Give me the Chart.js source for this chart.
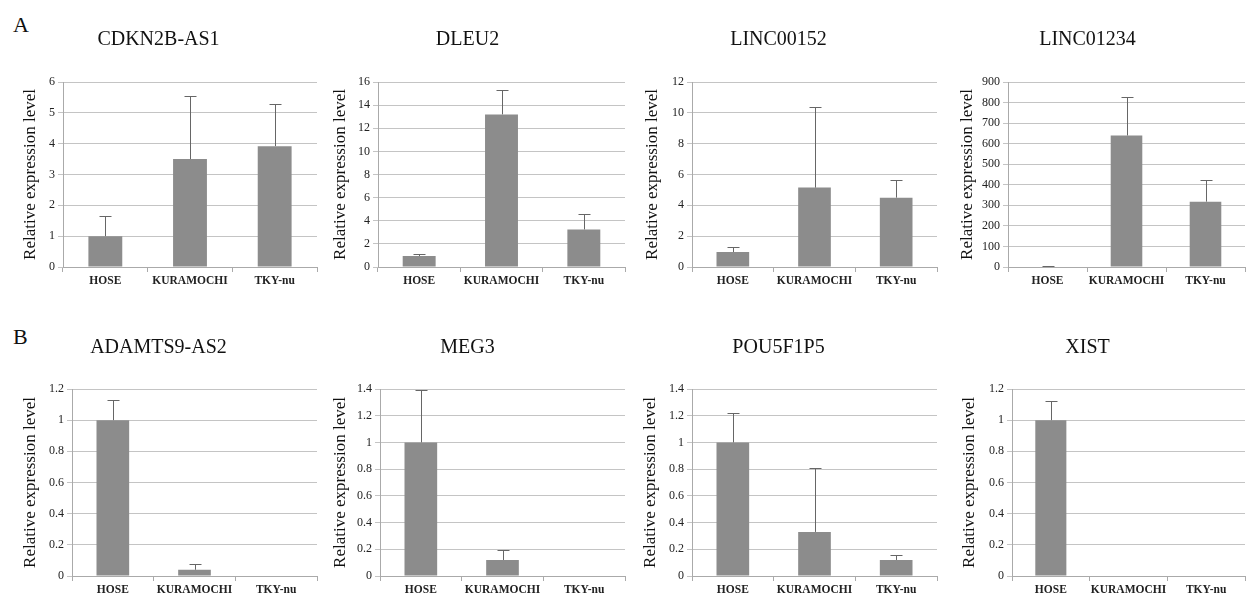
<!DOCTYPE html>
<html>
<head>
<meta charset="utf-8">
<script src="https://cdn.jsdelivr.net/npm/chart.js@4/dist/chart.umd.min.js"></script>
<style>
  body { margin: 0; background: #fff; }
  #wrap { position: relative; width: 1247px; height: 594px; background: #fff; }
  .panel { position: absolute; }
  .tag { position: absolute; font-family: "Liberation Serif", serif; font-size: 22px; color: #111; }
</style>
</head>
<body>
<div id="wrap">
  <div class="tag" style="left:13px; top:12px;">A</div>
  <div class="tag" style="left:13px; top:324px;">B</div>
</div>
<script>
// cell lines on the x axis
const categories = ['HOSE', 'KURAMOCHI', 'TKY-nu'];

// gene names, row A then row B
const genes = ['CDKN2B-AS1', 'DLEU2', 'LINC00152', 'LINC01234',
               'ADAMTS9-AS2', 'MEG3', 'POU5F1P5', 'XIST'];

// mean relative expression and upper error (SD) per gene
const cdkn2bMean = [1, 3.5, 3.92];
const cdkn2bErr = [0.65, 2.05, 1.38];
const dleu2Mean = [0.95, 13.2, 3.25];
const dleu2Err = [0.2, 2.1, 1.35];
const linc00152Mean = [0.97, 5.15, 4.5];
const linc00152Err = [0.3, 5.25, 1.15];
const linc01234Mean = [3, 640, 318];
const linc01234Err = [2, 185, 104];
const adamts9Mean = [1, 0.04, 0];
const adamts9Err = [0.13, 0.035, 0];
const meg3Mean = [1, 0.12, 0];
const meg3Err = [0.39, 0.075, 0];
const pou5f1p5Mean = [1, 0.33, 0.12];
const pou5f1p5Err = [0.22, 0.48, 0.035];
const xistMean = [1, 0, 0];
const xistErr = [0.125, 0, 0];

// y axis tick range per gene
const yMax = [6, 16, 12, 900, 1.2, 1.4, 1.4, 1.2];
const yStep = [1, 2, 2, 100, 0.2, 0.2, 0.2, 0.2];

const means = [cdkn2bMean, dleu2Mean, linc00152Mean, linc01234Mean,
               adamts9Mean, meg3Mean, pou5f1p5Mean, xistMean];
const errs = [cdkn2bErr, dleu2Err, linc00152Err, linc01234Err,
              adamts9Err, meg3Err, pou5f1p5Err, xistErr];

// layout (pixels); plotLeft and yTitleX are measured from the panel's left edge
const panelLeft = [0, 310, 620, 930];
const panelWidth = [320, 320, 320, 317];
const plotLeft = [63, 68, 72, 78, 72, 70, 72, 82];
const plotRight = [317, 625, 937, 1245];
const yTitleX = [30, 30, 32, 37, 30, 30, 30, 39];

const SERIF = '"Liberation Serif", "Times New Roman", serif';

const errorBars = {
  id: 'errorBars',
  afterDatasetsDraw(chart, args, opts) {
    const ctx = chart.ctx;
    const y = chart.scales.y;
    const meta = chart.getDatasetMeta(0);
    const vals = chart.data.datasets[0].data;
    ctx.save();
    ctx.strokeStyle = '#666';
    ctx.lineWidth = 1;
    meta.data.forEach((bar, i) => {
      const e = opts.errors[i];
      if (!e) return;
      const top = Math.round(y.getPixelForValue(vals[i] + e)) + 0.5;
      const x = Math.round(bar.x) + 0.5;
      ctx.beginPath();
      ctx.moveTo(x, bar.y);
      ctx.lineTo(x, top);
      ctx.moveTo(x - 6, top);
      ctx.lineTo(x + 6, top);
      ctx.stroke();
    });
    ctx.restore();
  }
};

const wrap = document.getElementById('wrap');

genes.forEach((gene, k) => {
  const row = k < 4 ? 0 : 1;
  const col = k % 4;
  const left = panelLeft[col];
  const width = panelWidth[col];
  const top = row === 0 ? 0 : 295;
  const height = row === 0 ? 295 : 299;

  const div = document.createElement('div');
  div.className = 'panel';
  div.style.left = left + 'px';
  div.style.top = top + 'px';
  div.style.width = width + 'px';
  div.style.height = height + 'px';
  const canvas = document.createElement('canvas');
  div.appendChild(canvas);
  wrap.appendChild(div);

  new Chart(canvas, {
    type: 'bar',
    data: {
      labels: categories,
      datasets: [{
        data: means[k],
        backgroundColor: '#8c8c8c',
        borderWidth: 0,
        barPercentage: 0.4,
        categoryPercentage: 1
      }]
    },
    options: {
      responsive: true,
      maintainAspectRatio: false,
      animation: false,
      layout: { padding: { right: width - (plotRight[col] - left) } },
      plugins: {
        legend: { display: false },
        tooltip: { enabled: false },
        title: {
          display: true,
          text: gene,
          color: '#111',
          font: { family: SERIF, size: 20, weight: 'normal' },
          padding: row === 0 ? { top: 28, bottom: 30 } : { top: 41, bottom: 29 }
        },
        errorBars: { errors: errs[k] }
      },
      scales: {
        x: {
          afterFit: (s) => { s.height = row === 0 ? 28 : 18; },
          grid: { drawOnChartArea: false, tickLength: 5, color: '#aaa' },
          border: { color: '#aaa' },
          ticks: {
            color: '#222',
            padding: 2,
            maxRotation: 0,
            minRotation: 0,
            autoSkip: false,
            font: { family: SERIF, size: 11.5, weight: 'bold' }
          }
        },
        y: {
          min: 0,
          max: yMax[k],
          afterFit: (s) => { s.width = plotLeft[k]; },
          grid: { color: '#c4c4c4', tickLength: 5 },
          border: { color: '#aaa' },
          ticks: {
            stepSize: yStep[k],
            color: '#222',
            padding: 3,
            font: { family: SERIF, size: 12 },
            callback: (v) => String(Number(v.toFixed(2)))
          },
          title: {
            display: true,
            text: 'Relative expression level',
            color: '#111',
            font: { family: SERIF, size: 17 },
            padding: { top: yTitleX[k] - 10, bottom: 0 }
          }
        }
      }
    },
    plugins: [errorBars]
  });
});
</script>
</body>
</html>
